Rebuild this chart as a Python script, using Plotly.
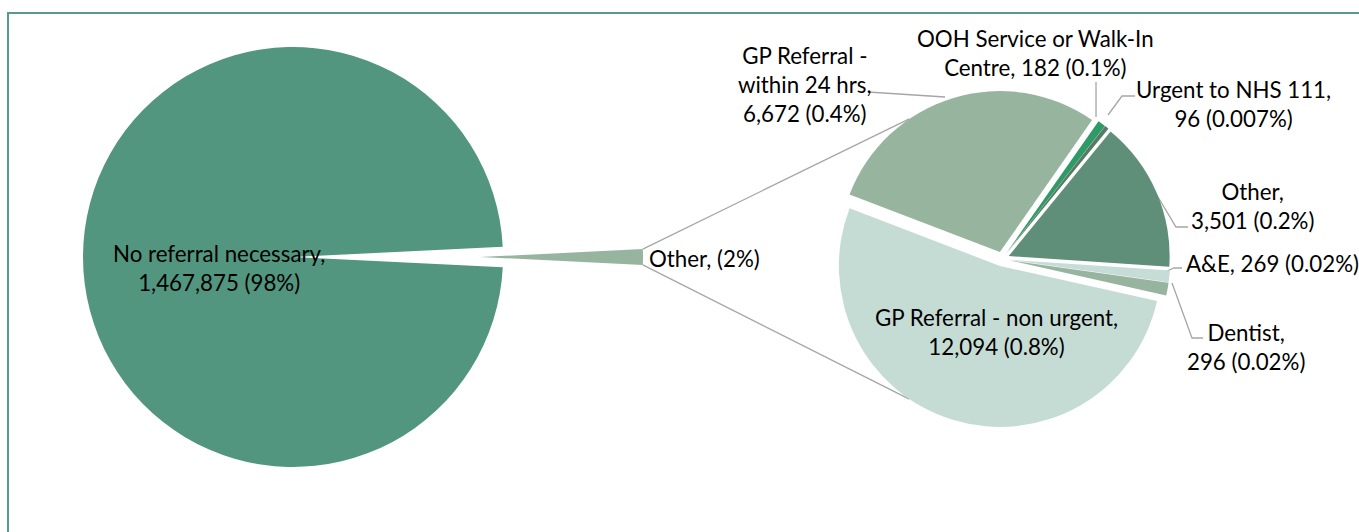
import math
import plotly.graph_objects as go

# ---------------- data ----------------
main_labels = ["No referral necessary", "Other"]
main_values = [1467875, 23110]
main_pct = ["98%", "2%"]

sec_labels = ["GP Referral - within 24 hrs", "OOH Service or Walk-In Centre",
              "Urgent to NHS 111", "Other", "A&E", "Dentist",
              "GP Referral - non urgent"]
sec_values = [6672, 182, 96, 3501, 269, 296, 12094]
sec_pct = ["0.4%", "0.1%", "0.007%", "0.2%", "0.02%", "0.02%", "0.8%"]

# ---------------- styling / layout ----------------
W, H = 1359, 532
FONT = "Lato"
FS = 22.3
main_colors = ["#52967F", "#97B49E"]
sec_colors = ["#97B49E", "#2E9B66", "#567A63", "#5F8F78", "#C5DDD6", "#97B49E", "#C5DCD5"]
TRANSPARENT = "rgba(0,0,0,0)"
LINE_GREY = "#A6A6A6"
BORDER = "#5B9A89"


def px(x, y):
    return x / W, 1 - y / H


def domain(cx, cy, half):
    return dict(x=[(cx - half) / W, (cx + half) / W],
                y=[1 - (cy + half) / H, 1 - (cy - half) / H])


total = sum(main_values)
f_other = main_values[1] / total

# main pie geometry
M_CX, M_CY, M_R = 293, 257, 210
# exploded "Other" wedge
O_CX, O_CY, O_R = 480, 257, 163
# secondary pie geometry
S_CX, S_CY, S_R, S_PULL = 1002, 259, 161, 0.045

fig = go.Figure()

# main pie (big slice only visible)
fig.add_trace(go.Pie(
    values=main_values, labels=main_labels, sort=False, direction="clockwise",
    rotation=90 + 180 * f_other,
    marker=dict(colors=[main_colors[0], TRANSPARENT], line=dict(width=0)),
    textinfo="none", hoverinfo="skip", showlegend=False,
    domain=domain(M_CX, M_CY, M_R),
))
# exploded Other wedge
fig.add_trace(go.Pie(
    values=[main_values[1], main_values[0]], labels=[main_labels[1], main_labels[0]],
    sort=False, direction="clockwise",
    rotation=90 - 180 * f_other,
    marker=dict(colors=[main_colors[1], TRANSPARENT], line=dict(width=0)),
    textinfo="none", hoverinfo="skip", showlegend=False,
    domain=domain(O_CX, O_CY, O_R),
))
# secondary pie
fig.add_trace(go.Pie(
    values=sec_values, labels=sec_labels, sort=False, direction="clockwise",
    rotation=-69, pull=[S_PULL] * len(sec_values),
    marker=dict(colors=sec_colors, line=dict(width=0)),
    textinfo="none", hoverinfo="label+value", showlegend=False,
    domain=domain(S_CX, S_CY, S_R * (1 + S_PULL)),
))


# ---------------- labels ----------------
def label_text(name, value, pct, split):
    full = f"{name}, {value:,} ({pct})" if value is not None else f"{name}, ({pct})"
    words = full.split(" ")
    lines, i = [], 0
    for n in split:
        lines.append(" ".join(words[i:i + n]))
        i += n
    return "<br>".join(lines)


annos = []
annos.append((label_text(main_labels[0], main_values[0], main_pct[0], [3, 2]), 219, 268, "center"))
annos.append((label_text(main_labels[1], None, main_pct[1], [2]), 647, 258, "left"))
sec_pos = [
    ([3, 3, 2], 805, 84, "center"),
    ([4, 3], 1035, 53, "center"),
    ([4, 2], 1233, 104, "center"),
    ([1, 2], 1252, 206, "center"),
    ([3], 1184, 263, "left"),
    ([1, 2], 1246, 347, "center"),
    ([5, 2], 996, 332, "center"),
]
for (sp, x, y, xa), n, v, p in zip(sec_pos, sec_labels, sec_values, sec_pct):
    annos.append((label_text(n, v, p, sp), x, y, xa))

for text, x, y, xa in annos:
    ax, ay = px(x, y)
    fig.add_annotation(text=text, x=ax, y=ay, xref="paper", yref="paper",
                       xanchor=xa, yanchor="middle", showarrow=False, align="center",
                       font=dict(family=FONT, size=FS, color="#000000"))

# ---------------- lines ----------------
shapes = []


def poly(points, color=LINE_GREY, width=1.3):
    pts = [px(x, y) for x, y in points]
    path = "M " + " L ".join(f"{a:.5f},{b:.5f}" for a, b in pts)
    shapes.append(dict(type="path", path=path, xref="paper", yref="paper",
                       line=dict(color=color, width=width), layer="below"))


# connector lines from Other wedge to secondary pie
half = math.pi * f_other
for sgn in (1, -1):
    x0 = O_CX + O_R * math.cos(half)
    y0 = O_CY - sgn * O_R * math.sin(half)
    ang = math.radians(sgn * 123.5)
    x1 = S_CX + 168 * math.cos(ang)
    y1 = S_CY - 168 * math.sin(ang)
    poly([(x0, y0), (x1, y1)])

# leader lines
poly([(868, 92), (945, 97)])
poly([(1096, 82), (1096, 117)])
poly([(1135, 96), (1122, 96), (1108, 115)])
poly([(1188, 227), (1176, 227), (1152, 187)])
poly([(1182, 268), (1174, 268), (1165, 272)])
poly([(1203, 338), (1192, 338), (1172, 283)])

# chart border (top and left)
poly([(8, 540), (8, 13), (W + 5, 13)], color=BORDER, width=2)

fig.update_layout(
    width=W, height=H, autosize=False,
    margin=dict(l=0, r=0, t=0, b=0),
    paper_bgcolor="white", plot_bgcolor="white",
    shapes=shapes, showlegend=False,
    font=dict(family=FONT, size=FS),
)

fig.write_html("out.html", config={"displayModeBar": False},
               post_script="document.body.style.margin='0';document.body.style.overflow='hidden';")
